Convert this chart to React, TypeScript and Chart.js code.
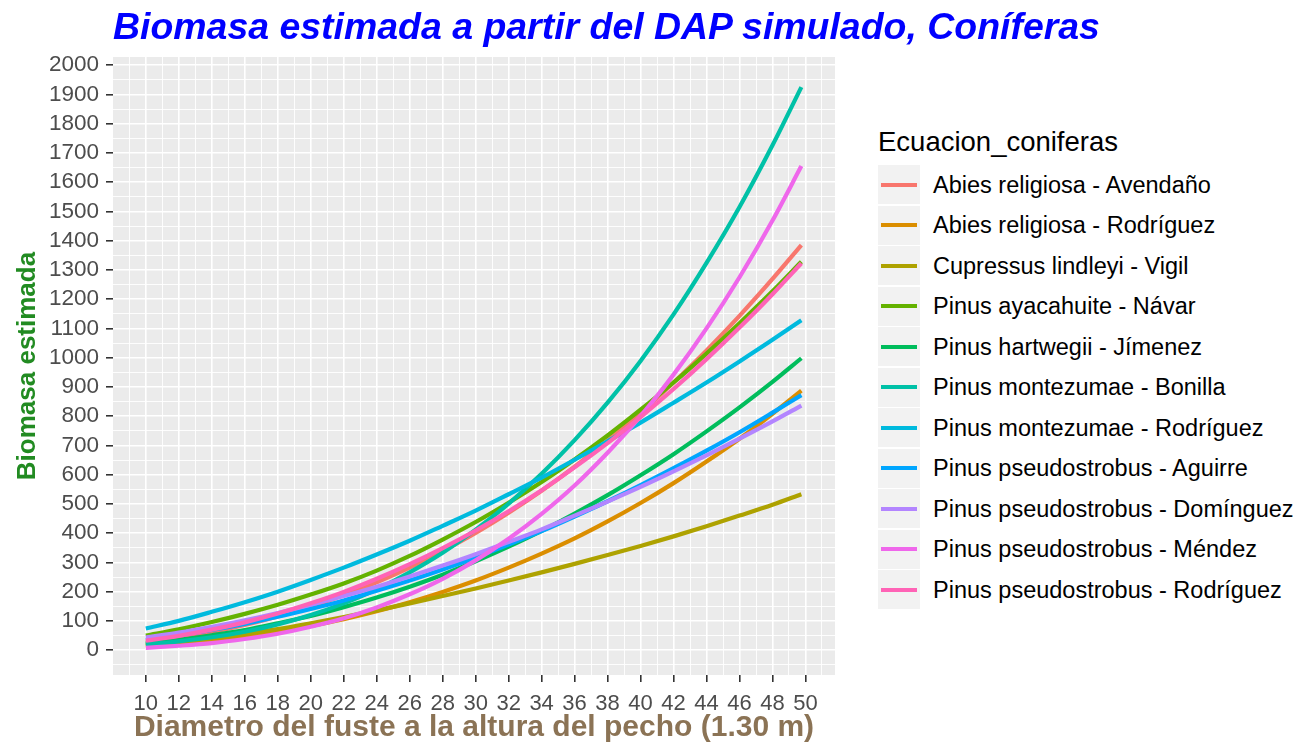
import React, { useEffect, useRef } from 'react';
import { Chart, registerables } from 'chart.js';

Chart.register(...registerables);

// ---------- data ----------
const DAP = [10, 12, 14, 16, 18, 20, 22, 24, 26, 28, 30, 32, 34, 36, 38, 40, 42, 44, 46, 48, 49.75];

const SERIES_NAMES = [
  'Abies religiosa - Avendaño',
  'Abies religiosa - Rodríguez',
  'Cupressus lindleyi - Vigil',
  'Pinus ayacahuite - Návar',
  'Pinus hartwegii - Jímenez',
  'Pinus montezumae - Bonilla',
  'Pinus montezumae - Rodríguez',
  'Pinus pseudostrobus - Aguirre',
  'Pinus pseudostrobus - Domínguez',
  'Pinus pseudostrobus - Méndez',
  'Pinus pseudostrobus - Rodríguez',
];

const SERIES_COLORS = [
  '#F8766D', '#DB8E00', '#AEA200', '#64B200', '#00BD5C', '#00C1A7',
  '#00BADE', '#00A6FF', '#B385FF', '#EF67EB', '#FF63B6',
];

const abiesAvendano = [27, 43, 62, 86, 115, 148, 188, 232, 282, 339, 401, 470, 545, 627, 716, 811, 915, 1025, 1143, 1269, 1385];
const abiesRodriguez = [14, 22, 33, 46, 63, 83, 106, 133, 164, 199, 238, 282, 330, 382, 440, 503, 571, 645, 723, 808, 887];
const cupressusVigil = [18, 28, 40, 55, 72, 92, 113, 136, 160, 185, 211, 238, 266, 295, 325, 356, 389, 424, 460, 497, 533];
const ayacahuiteNavar = [50, 71, 96, 124, 155, 190, 228, 272, 322, 378, 438, 504, 575, 652, 734, 822, 915, 1014, 1118, 1227, 1328];
const hartwegiiJimenez = [23, 35, 51, 69, 92, 117, 147, 180, 217, 258, 304, 354, 408, 467, 530, 598, 670, 748, 830, 917, 998];
const montezumaeBonilla = [20, 30, 44, 63, 88, 120, 160, 208, 266, 333, 412, 501, 603, 718, 846, 989, 1148, 1324, 1515, 1726, 1925];
const montezumaeRodriguez = [74, 100, 131, 164, 200, 240, 282, 327, 374, 425, 477, 533, 590, 651, 714, 778, 846, 915, 987, 1061, 1128];
const pseudoAguirre = [35, 51, 69, 90, 114, 141, 170, 203, 238, 276, 317, 361, 407, 457, 509, 564, 622, 682, 745, 812, 872];
const pseudoDominguez = [43, 60, 80, 102, 127, 155, 185, 217, 252, 289, 328, 370, 413, 460, 508, 558, 611, 666, 723, 782, 836];
const pseudoMendez = [8, 15, 24, 38, 56, 80, 109, 146, 191, 244, 307, 381, 466, 563, 675, 800, 942, 1100, 1275, 1469, 1655];
const pseudoRodriguez = [32, 49, 70, 95, 125, 160, 199, 244, 294, 349, 409, 475, 547, 625, 708, 797, 893, 995, 1103, 1217, 1323];

const SERIES_VALUES = [
  abiesAvendano, abiesRodriguez, cupressusVigil, ayacahuiteNavar, hartwegiiJimenez,
  montezumaeBonilla, montezumaeRodriguez, pseudoAguirre, pseudoDominguez, pseudoMendez, pseudoRodriguez,
];

const X_TICK_LABELS = ['10', '12', '14', '16', '18', '20', '22', '24', '26', '28', '30', '32', '34', '36', '38', '40', '42', '44', '46', '48', '50'];
const Y_TICK_LABELS = ['0', '100', '200', '300', '400', '500', '600', '700', '800', '900', '1000', '1100', '1200', '1300', '1400', '1500', '1600', '1700', '1800', '1900', '2000'];

const TITLE = 'Biomasa estimada a partir del DAP simulado, Coníferas';
const X_TITLE = 'Diametro del fuste a la altura del pecho (1.30 m)';
const Y_TITLE = 'Biomasa estimada';
const LEGEND_TITLE = 'Ecuacion_coniferas';

const FONT = "'Liberation Sans', Arial, Helvetica, sans-serif";

const panelBg = {
  id: 'panelBg',
  beforeDraw(chart: any) {
    const { ctx, chartArea: a } = chart;
    ctx.save();
    ctx.fillStyle = '#EBEBEB';
    ctx.fillRect(a.left, a.top, a.right - a.left, a.bottom - a.top);
    ctx.restore();
  },
};

const isWhole = (v: number, step: number) => Math.abs(v / step - Math.round(v / step)) < 1e-6;

export default function App() {
  const ref = useRef<HTMLCanvasElement>(null);

  useEffect(() => {
    document.body.style.margin = '0';
    const canvas = ref.current!;
    const chart = new Chart(canvas, {
      type: 'line',
      data: {
        datasets: SERIES_NAMES.map((name, i) => ({
          label: name,
          data: DAP.map((d, k) => ({ x: d, y: SERIES_VALUES[i][k] })),
          borderColor: SERIES_COLORS[i],
          backgroundColor: SERIES_COLORS[i],
          borderWidth: 4.2,
          pointRadius: 0,
          cubicInterpolationMode: 'monotone' as const,
          fill: false,
          order: SERIES_NAMES.length - 1 - i,
        })),
      },
      options: {
        animation: false,
        responsive: false,
        maintainAspectRatio: false,
        layout: { padding: { top: 57, right: 25, left: 0, bottom: 0 } },
        plugins: {
          legend: { display: false },
          tooltip: { enabled: false },
          title: { display: false },
        },
        scales: {
          x: {
            type: 'linear',
            min: 8.01,
            max: 51.79,
            afterBuildTicks: (s: any) => {
              s.ticks = s.ticks.filter((t: any) => isWhole(t.value, 1));
            },
            afterFit: (s: any) => {
              s.height = 69;
            },
            ticks: {
              stepSize: 1,
              includeBounds: false,
              autoSkip: false,
              maxRotation: 0,
              minRotation: 0,
              padding: 9,
              color: '#4D4D4D',
              font: { family: FONT, size: 22 },
              callback: (v: any) => {
                const s = String(Math.round(Number(v)));
                return isWhole(Number(v), 1) && X_TICK_LABELS.includes(s) ? s : '';
              },
            },
            grid: {
              color: '#FFFFFF',
              lineWidth: (c: any) => (c.tick && isWhole(c.tick.value, 2) ? 1.6 : 0.9),
              tickColor: (c: any) =>
                c.tick && X_TICK_LABELS.includes(String(Math.round(c.tick.value))) && isWhole(c.tick.value, 2)
                  ? '#333333'
                  : 'rgba(0,0,0,0)',
              tickLength: 7,
              tickWidth: 1.6,
            },
            border: { display: false },
            title: {
              display: true,
              text: X_TITLE,
              color: '#8B7355',
              font: { family: FONT, size: 30, weight: 'bold' },
              padding: { top: 0, bottom: -2 },
            },
          },
          y: {
            type: 'linear',
            min: -85,
            max: 2028,
            afterBuildTicks: (s: any) => {
              s.ticks = s.ticks.filter((t: any) => isWhole(t.value, 50));
            },
            afterFit: (s: any) => {
              s.width = 113;
            },
            ticks: {
              stepSize: 50,
              includeBounds: false,
              autoSkip: false,
              padding: 7,
              color: '#4D4D4D',
              font: { family: FONT, size: 22.5 },
              callback: (v: any) => {
                const s = String(Math.round(Number(v)));
                return Y_TICK_LABELS.includes(s) && isWhole(Number(v), 100) ? s : '';
              },
            },
            grid: {
              color: '#FFFFFF',
              lineWidth: (c: any) => (c.tick && isWhole(c.tick.value, 100) ? 1.6 : 0.9),
              tickColor: (c: any) =>
                c.tick && isWhole(c.tick.value, 100) && c.tick.value >= 0 ? '#333333' : 'rgba(0,0,0,0)',
              tickLength: 7,
              tickWidth: 1.6,
            },
            border: { display: false },
            title: {
              display: true,
              text: Y_TITLE,
              color: '#228B22',
              font: { family: FONT, size: 26, weight: 'bold' },
              padding: { top: 12, bottom: 0 },
            },
          },
        },
      },
      plugins: [panelBg],
    } as any);
    return () => chart.destroy();
  }, []);

  return (
    <div
      style={{
        position: 'absolute',
        left: 0,
        top: 0,
        width: 1303,
        height: 744,
        background: '#FFFFFF',
        overflow: 'hidden',
        fontFamily: FONT,
      }}
    >
      <canvas
        ref={ref}
        width={860}
        height={744}
        style={{ position: 'absolute', left: 0, top: 0, width: 860, height: 744 }}
      />
      <div
        style={{
          position: 'absolute',
          left: 113,
          top: 9,
          fontSize: 36,
          lineHeight: '36px',
          fontWeight: 'bold',
          fontStyle: 'italic',
          color: '#0000FF',
          whiteSpace: 'nowrap',
          transform: 'scaleX(1.04)',
          transformOrigin: '0 0',
        }}
      >
        {TITLE}
      </div>
      <div
        style={{
          position: 'absolute',
          left: 878,
          top: 128,
          fontSize: 27.5,
          lineHeight: '27.5px',
          color: '#000000',
          whiteSpace: 'nowrap',
        }}
      >
        {LEGEND_TITLE}
      </div>
      {SERIES_NAMES.map((name, i) => (
        <div
          key={name}
          style={{
            position: 'absolute',
            left: 878,
            top: 165 + i * 40.5,
            height: 39,
            display: 'flex',
            alignItems: 'center',
            whiteSpace: 'nowrap',
          }}
        >
          <div
            style={{
              width: 42,
              height: 39,
              background: '#F2F2F2',
              position: 'relative',
              flex: '0 0 auto',
            }}
          >
            <div
              style={{
                position: 'absolute',
                left: 3,
                top: 17.5,
                width: 36,
                height: 4,
                background: SERIES_COLORS[i],
              }}
            />
          </div>
          <div style={{ marginLeft: 13, fontSize: 23.5, lineHeight: '23.5px', color: '#000000', marginTop: 2 }}>{name}</div>
        </div>
      ))}
    </div>
  );
}
